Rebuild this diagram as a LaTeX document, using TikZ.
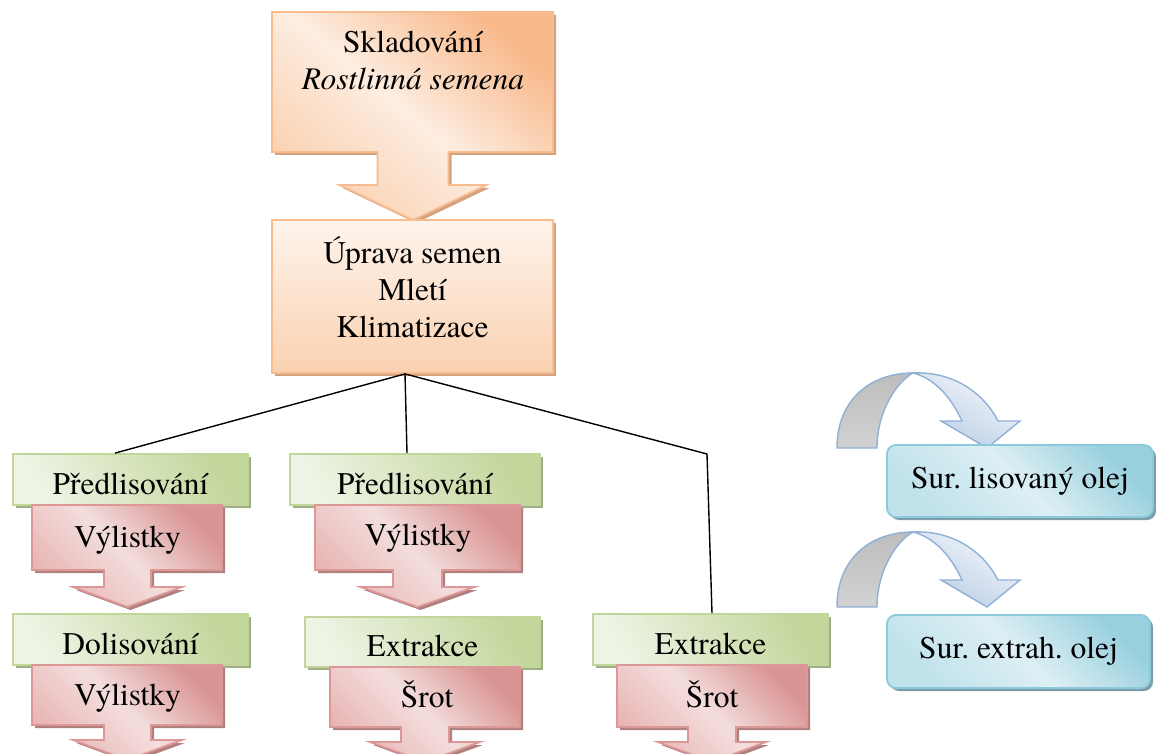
\documentclass[tikz,border=0pt]{standalone}
\usepackage{fontspec}
\newfontfamily\timesfont{TeX Gyre Termes}
\usetikzlibrary{shadows,calc}

\definecolor{orBorder}{HTML}{F7BC8F}
\definecolor{orDark}{HTML}{F8B98B}
\definecolor{orMid}{HTML}{FDEDE1}
\definecolor{orLight}{HTML}{FAD1B0}
\definecolor{orTop}{HTML}{FEF4EC}
\definecolor{orShadow}{HTML}{D6A27E}
\definecolor{grBorder}{HTML}{C2D69B}
\definecolor{grDark}{HTML}{C3D69B}
\definecolor{grLight}{HTML}{EEF4E5}
\definecolor{grShadow}{HTML}{9FAE85}
\definecolor{rdBorder}{HTML}{DB9897}
\definecolor{rdDark}{HTML}{D99594}
\definecolor{rdMid}{HTML}{F3DEDD}
\definecolor{rdLow}{HTML}{E8B5B4}
\definecolor{rdShadow}{HTML}{B0807F}
\definecolor{blBorder}{HTML}{8CCADB}
\definecolor{blDark}{HTML}{98D0DE}
\definecolor{blMid}{HTML}{DDEFF4}
\definecolor{blLow}{HTML}{C0E2EB}
\definecolor{blShadow}{HTML}{7D9DA8}
\definecolor{cvBorder}{HTML}{91B0D6}
\definecolor{cvGrayA}{HTML}{BDBDBD}
\definecolor{cvGrayB}{HTML}{D2D2D2}
\definecolor{cvBlueA}{HTML}{F5F8FC}
\definecolor{cvBlueB}{HTML}{B8CCE4}

% box with a downward arrow below it
% #1 style, #2 left, #3 right, #4 top, #5 bottom, #6 centre x,
% #7 stem half width, #8 head half width, #9 stem end y; head length in \headlen
\newcommand{\arrowbox}[9]{%
  \path[#1] (#2,#4) -- (#3,#4) -- (#3,#5) -- ({#6+#7},#5) -- ({#6+#7},#9)
    -- ({#6+#8},#9) -- (#6,{#9+\headlen}) -- ({#6-#8},#9) -- ({#6-#7},#9)
    -- ({#6-#7},#5) -- (#2,#5) -- cycle;}

% curved arrow pointing down to the right
\newcommand{\curvedarrow}{%
  \path[draw=cvBorder, line width=1.4pt, top color=cvGrayA, bottom color=cvGrayB]
    (837,448) .. controls (837,400) and (870,373) .. (913,373)
    .. controls (898,381) and (877,410) .. (877,448) -- cycle;
  \path[draw=cvBorder, line width=1.4pt, top color=cvBlueA, bottom color=cvBlueB,
        shading angle=-30]
    (913,373) .. controls (955,371) and (985,395) .. (998,421)
    -- (1020,421) -- (987,448) -- (941,421) -- (962,421)
    .. controls (950,395) and (933,378) .. (913,373) -- cycle;}

\begin{document}
\begin{tikzpicture}[x=1pt,y=-1pt,
  txt/.style={inner sep=0pt, font=\timesfont\fontsize{31.5}{37}\selectfont},
  conn/.style={draw=black, line width=1.4pt},
  shadowof/.style={drop shadow={shadow xshift=3pt, shadow yshift=-3pt, fill=#1, opacity=1}},
  orangearrow/.style={draw=orBorder, line width=1.8pt, shadowof=orShadow,
    top color=orDark, bottom color=orLight, middle color=orMid, shading angle=-40},
  orangebox/.style={draw=orBorder, line width=1.8pt, shadowof=orShadow,
    top color=orTop, bottom color=orLight, inner sep=0pt},
  redarrow/.style={draw=rdBorder, line width=1.8pt, shadowof=rdShadow,
    top color=rdDark, bottom color=rdLow, middle color=rdMid, shading angle=-45},
  gbox/.style={txt, draw=grBorder, line width=1.8pt, shadowof=grShadow,
    top color=grDark, bottom color=grLight, shading angle=-60,
    minimum width=235pt, minimum height=51pt, text height=29pt, text depth=0pt},
  bbox/.style={txt, draw=blBorder, line width=1.8pt, shadowof=blShadow,
    rounded corners=9pt, top color=blDark, bottom color=blLow, middle color=blMid,
    shading angle=-45, minimum height=72pt, text height=14pt, text depth=0pt},
]
\useasboundingbox (0,0) rectangle (1156,754);

% storage step with arrow
\def\headlen{35}
\arrowbox{orangearrow}{272}{553}{12}{152}{413}{35.5}{73.5}{185}
\node[txt, anchor=base] (sklad) at (413,53) {Skladování};
\node[txt, anchor=base] (semena) at (413,90) {\itshape Rostlinná semena};

% seed preparation
\node[orangebox, minimum width=281pt, minimum height=153pt] (upr) at (412.5,296.5) {};
\node[txt, anchor=base] (upr1) at (412.5,263) {Úprava semen};
\node[txt, anchor=base] (upr2) at (412.5,300) {Mletí};
\node[txt, anchor=base] (upr3) at (412.5,337) {Klimatizace};

% first row of steps
\node[gbox] (g1) at (130.5,479.5) {Předlisování};
\node[gbox, minimum width=250pt] (g2) at (415,479.5) {Předlisování};
\def\headlen{20}
\arrowbox{redarrow}{32}{222}{505}{570}{127.5}{23.5}{54.5}{587}
\arrowbox{redarrow}{315}{520}{505}{570}{417.5}{24.5}{57}{587}
\node[txt, anchor=base] (v1) at (127.5,547) {Výlistky};
\node[txt, anchor=base] (v2) at (418,545) {Výlistky};

% second row of steps
\node[gbox] (g3) at (130.5,639.5) {Dolisování};
\node[gbox, minimum height=50pt] (g4) at (422.5,642) {Extrakce};
\node[gbox] (g5) at (710.5,639.5) {Extrakce};
\arrowbox{redarrow}{32}{222}{665}{725}{127.5}{23.5}{54.5}{740}
\arrowbox{redarrow}{330}{520}{667}{727}{425}{24}{55}{742}
\arrowbox{redarrow}{617}{807}{665}{727}{712}{24}{54}{742}
\node[txt, anchor=base] (v3) at (127.5,705) {Výlistky};
\node[txt, anchor=base] (s4) at (427,707) {Šrot};
\node[txt, anchor=base] (s5) at (712,707) {Šrot};

% connectors from the preparation step
\coordinate (bendpt) at (707,454);
\draw[conn] ([xshift=-7.5pt]upr.south) -- ([xshift=-15.5pt]g1.north);
\draw[conn] ([xshift=-7.5pt]upr.south) -- ([xshift=-8pt]g2.north);
\draw[conn] ([xshift=-7.5pt]upr.south) -- (bendpt) -- ([xshift=1.5pt]g5.north);

% products
\curvedarrow
\begin{scope}[yshift=-159pt]
  \curvedarrow
\end{scope}
\node[bbox, minimum width=266pt] (oil1) at (1020,481) {Sur.\ lisovaný olej};
\node[bbox, minimum width=263pt, minimum height=73pt] (oil2) at (1018.5,651.5) {Sur.\ extrah.\ olej};
\end{tikzpicture}
\end{document}
